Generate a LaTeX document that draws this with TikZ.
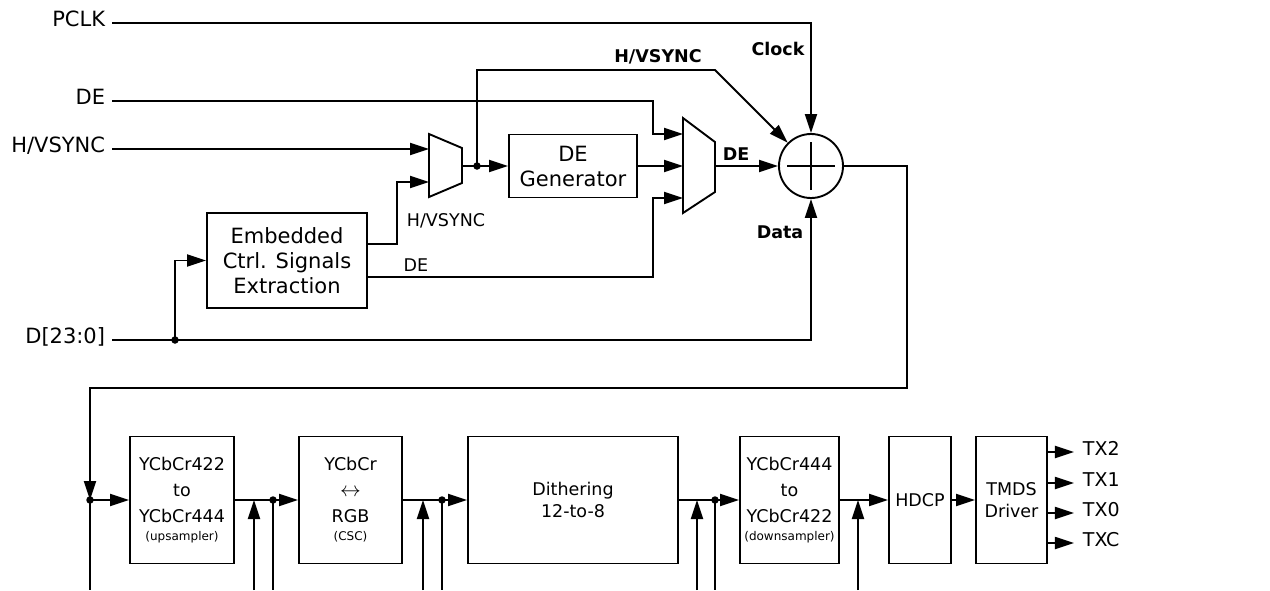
\documentclass[tikz,border=0pt]{standalone}
\usepackage{fontspec}
\setmainfont{DejaVu Sans}
\usetikzlibrary{arrows.meta}
\newcommand{\notesz}{\fontsize{12}{14}\selectfont}
\begin{document}
\begin{tikzpicture}[x=1pt,y=-1pt,
  line width=1.9pt,
  font=\fontsize{21}{25}\selectfont,
  box/.style={draw, line width=1.9pt, inner sep=0pt, align=center},
  stage/.style={box, minimum height=127pt, font=\fontsize{17.5}{26}\selectfont},
  sig/.style={inner xsep=6pt, inner ysep=0pt, text height=0.73em, text depth=0pt},
  bold/.style={font=\fontsize{17.5}{20}\selectfont\bfseries, inner sep=0pt},
  small/.style={font=\fontsize{17.5}{20}\selectfont, inner sep=0pt},
  arr/.style={-{Triangle[length=19pt,width=12pt]}},
  dot/.style={circle, fill, inner sep=0pt, minimum size=7.5pt}
]
\useasboundingbox (0,0) rectangle (1270,590);
% input signals
\node[sig, anchor=east] (pclk) at (112,23)  {PCLK};
\node[sig, anchor=east] (de)   at (112,101) {DE};
\node[sig, anchor=east] (hvs)  at (112,149) {H/VSYNC};
\node[sig, anchor=east] (din)  at (112,340) {D[23:0]};
% top blocks
\node[box, minimum width=160pt, minimum height=95pt] (ext) at (287,260.5) {Embedded\\Ctrl. Signals\\Extraction};
\node[box, minimum width=128pt, minimum height=63pt] (gen) at (573,166) {DE\\Generator};
\node[circle, draw, minimum size=64pt, inner sep=0pt] (sum) at (811,166) {};
\draw ([xshift=-24pt]sum.center) -- ([xshift=24pt]sum.center);
\draw ([yshift=-24pt]sum.center) -- ([yshift=24pt]sum.center);
% muxes
\coordinate (m1a) at (429,149);
\coordinate (m1b) at (429,182);
\coordinate (m1o) at (462,166);
\draw (429,134) -- (462,148) -- (462,183) -- (429,197) -- cycle;
\coordinate (m2a) at (683,134);
\coordinate (m2b) at (683,166);
\coordinate (m2c) at (683,198);
\coordinate (m2o) at (715,166);
\draw (683,118) -- (715,142) -- (715,192) -- (683,213) -- cycle;
% top wiring
\coordinate (dsplit) at (175,340);
\coordinate (hvsplit) at (477,166);
\draw[arr] (pclk.east) -| (sum.north);
\draw[arr] (de.east) -| ([xshift=-30pt]m2a) -- (m2a);
\draw[arr] (hvs.east) -- (m1a);
\draw[arr] (din.east) -| (sum.south);
\draw[arr] (dsplit) |- (ext.west);
\draw[arr] ([yshift=16.5pt]ext.east) -| ([xshift=-32pt]m1b) -- (m1b);
\draw[arr] ([yshift=-16.5pt]ext.east) -| ([xshift=-30pt]m2c) -- (m2c);
\draw[arr] (m1o) -- (gen.west);
\draw[arr] (hvsplit) |- (715,70) -- (sum.north west);
\draw[arr] (gen.east) -- (m2b);
\draw[arr] (m2o) -- (sum.west);
\node[dot] (dsplitdot) at (dsplit) {};
\node[dot] (hvsplitdot) at (hvsplit) {};
% labels
\node[bold] (lclock) at (778,49)  {Clock};
\node[bold] (ldata)  at (780,232) {Data};
\node[bold] (lhv)    at (658,57)  {H/VSYNC};
\node[bold] (lde)    at (736,154) {DE};
\node[small] (lhv2)  at (446,221) {H/VSYNC};
\node[small] (lde2)  at (416,265) {DE};
% pipeline
\node[stage, minimum width=104pt] (up)   at (182,500)   {YCbCr422\\to\\YCbCr444\\[-8pt]{\notesz (upsampler)}};
\node[stage, minimum width=103pt] (csc)  at (350.5,500) {YCbCr\\{\fontsize{22}{26}\selectfont$\leftrightarrow$}\\RGB\\[-8pt]{\notesz (CSC)}};
\node[stage, minimum width=210pt] (dith) at (573,500)   {Dithering\\[-4pt]12-to-8};
\node[stage, minimum width=99pt]  (down) at (789.5,500) {YCbCr444\\to\\YCbCr422\\[-8pt]{\notesz (downsampler)}};
\node[stage, minimum width=62pt]  (hdcp) at (920,500)   {HDCP};
\node[stage, minimum width=71pt]  (tmds) at (1011.5,500){TMDS\\[-4pt]Driver};
\coordinate (split0) at (90,500);
\draw[arr] (sum.east) -| (907,388) -| (split0);
\draw (split0) -- (90,590);
\node[dot] (split0dot) at (split0) {};
\draw[arr] (split0) -- (up.west);
\draw[arr] (up.east) -- (csc.west);
\draw[arr] (csc.east) -- (dith.west);
\draw[arr] (dith.east) -- (down.west);
\draw[arr] (down.east) -- (hdcp.west);
\draw[arr] (hdcp.east) -- (tmds.west);
\foreach \x [count=\i] in {254,423,697,858} {
  \coordinate (tap\i) at (\x,500);
  \draw[arr] (tap\i |- 0,590) -- (tap\i);
}
\foreach \x [count=\i] in {273,442,715} {
  \coordinate (br\i) at (\x,500);
  \draw (br\i) -- (br\i |- 0,590);
  \node[dot] (brdot\i) at (br\i) {};
}
\foreach \y/\t in {452/TX2,483/TX1,513/TX0,543/TXC} {
  \draw[arr] (tmds.east |- 0,\y) -- ++(26,0) node[sig, anchor=west, inner xsep=8pt, font=\fontsize{19}{20}\selectfont] (out\t) {\t};
}
\end{tikzpicture}
\end{document}
